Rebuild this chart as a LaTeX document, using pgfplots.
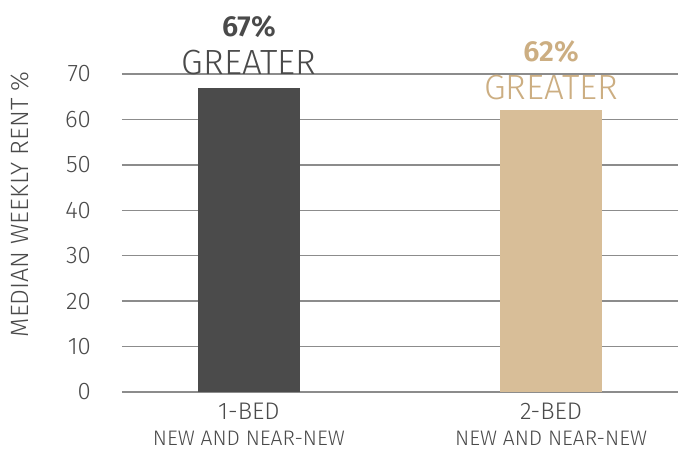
\documentclass[border=0pt]{standalone}
\usepackage{fontspec}
\setmainfont{Fira Sans}[UprightFont=* Light, BoldFont=* SemiBold]
\usepackage{pgfplots}
\pgfplotsset{compat=1.18}
\definecolor{darkbar}{HTML}{4B4B4B}
\definecolor{tanbar}{HTML}{D8BE98}
\definecolor{tantext}{HTML}{CCAE82}
\definecolor{gridgray}{HTML}{8C8C8C}
\definecolor{txtgray}{HTML}{4A4A4A}
\begin{document}
\begin{tikzpicture}
\useasboundingbox (-61pt,-31.5pt) rectangle (278pt,196pt);
\begin{axis}[
  at={(0pt,0pt)}, anchor=south west,
  scale only axis, width=278pt, height=159pt,
  xmin=-0.42, xmax=1.42, ymin=0, ymax=70,
  axis line style={draw=none},
  major tick length=0pt,
  ytick={0,10,...,70},
  ymajorgrids, grid style={color=gridgray, line width=0.7pt},
  xtick={0,1},
  xticklabels={{1-BED\\[0pt]{\fontsize{10.5}{11}\selectfont NEW AND NEAR-NEW}},{2-BED\\[0pt]{\fontsize{10.5}{11}\selectfont NEW AND NEAR-NEW}}},
  xticklabel style={align=center, text=txtgray, font=\fontsize{12}{13}\selectfont, yshift=-2pt},
  yticklabel style={text=txtgray, font=\fontsize{12}{13}\selectfont, xshift=-12pt},
  /pgf/number format/assume math mode=true,
  ylabel={MEDIAN WEEKLY RENT \%},
  ylabel style={text=txtgray, font=\fontsize{12.5}{13}\selectfont, at={(axis description cs:0,0.59)}, anchor=center, yshift=51pt},
  bar width=51pt,
  clip=false,
]
\addplot[ybar, bar shift=0pt, fill=darkbar, draw=none] coordinates {(0,67)};
\addplot[ybar, bar shift=0pt, fill=tanbar, draw=none] coordinates {(1,62)};
\node[anchor=south, text=txtgray, font=\fontsize{17.5}{18}\selectfont, inner sep=0pt] (g1) at (axis cs:0,67) [yshift=6pt] {GREATER};
\node[anchor=south, text=txtgray, font=\bfseries\fontsize{14.5}{15}\selectfont, inner sep=0pt] at (g1.north) [yshift=6pt] {67\%};
\node[anchor=south, text=tantext, font=\fontsize{17.5}{18}\selectfont, inner sep=0pt] (g2) at (axis cs:1,62) [yshift=5pt] {GREATER};
\node[anchor=south, text=tantext, font=\bfseries\fontsize{14.5}{15}\selectfont, inner sep=0pt] at (g2.north) [yshift=6pt] {62\%};
\end{axis}
\end{tikzpicture}
\end{document}
